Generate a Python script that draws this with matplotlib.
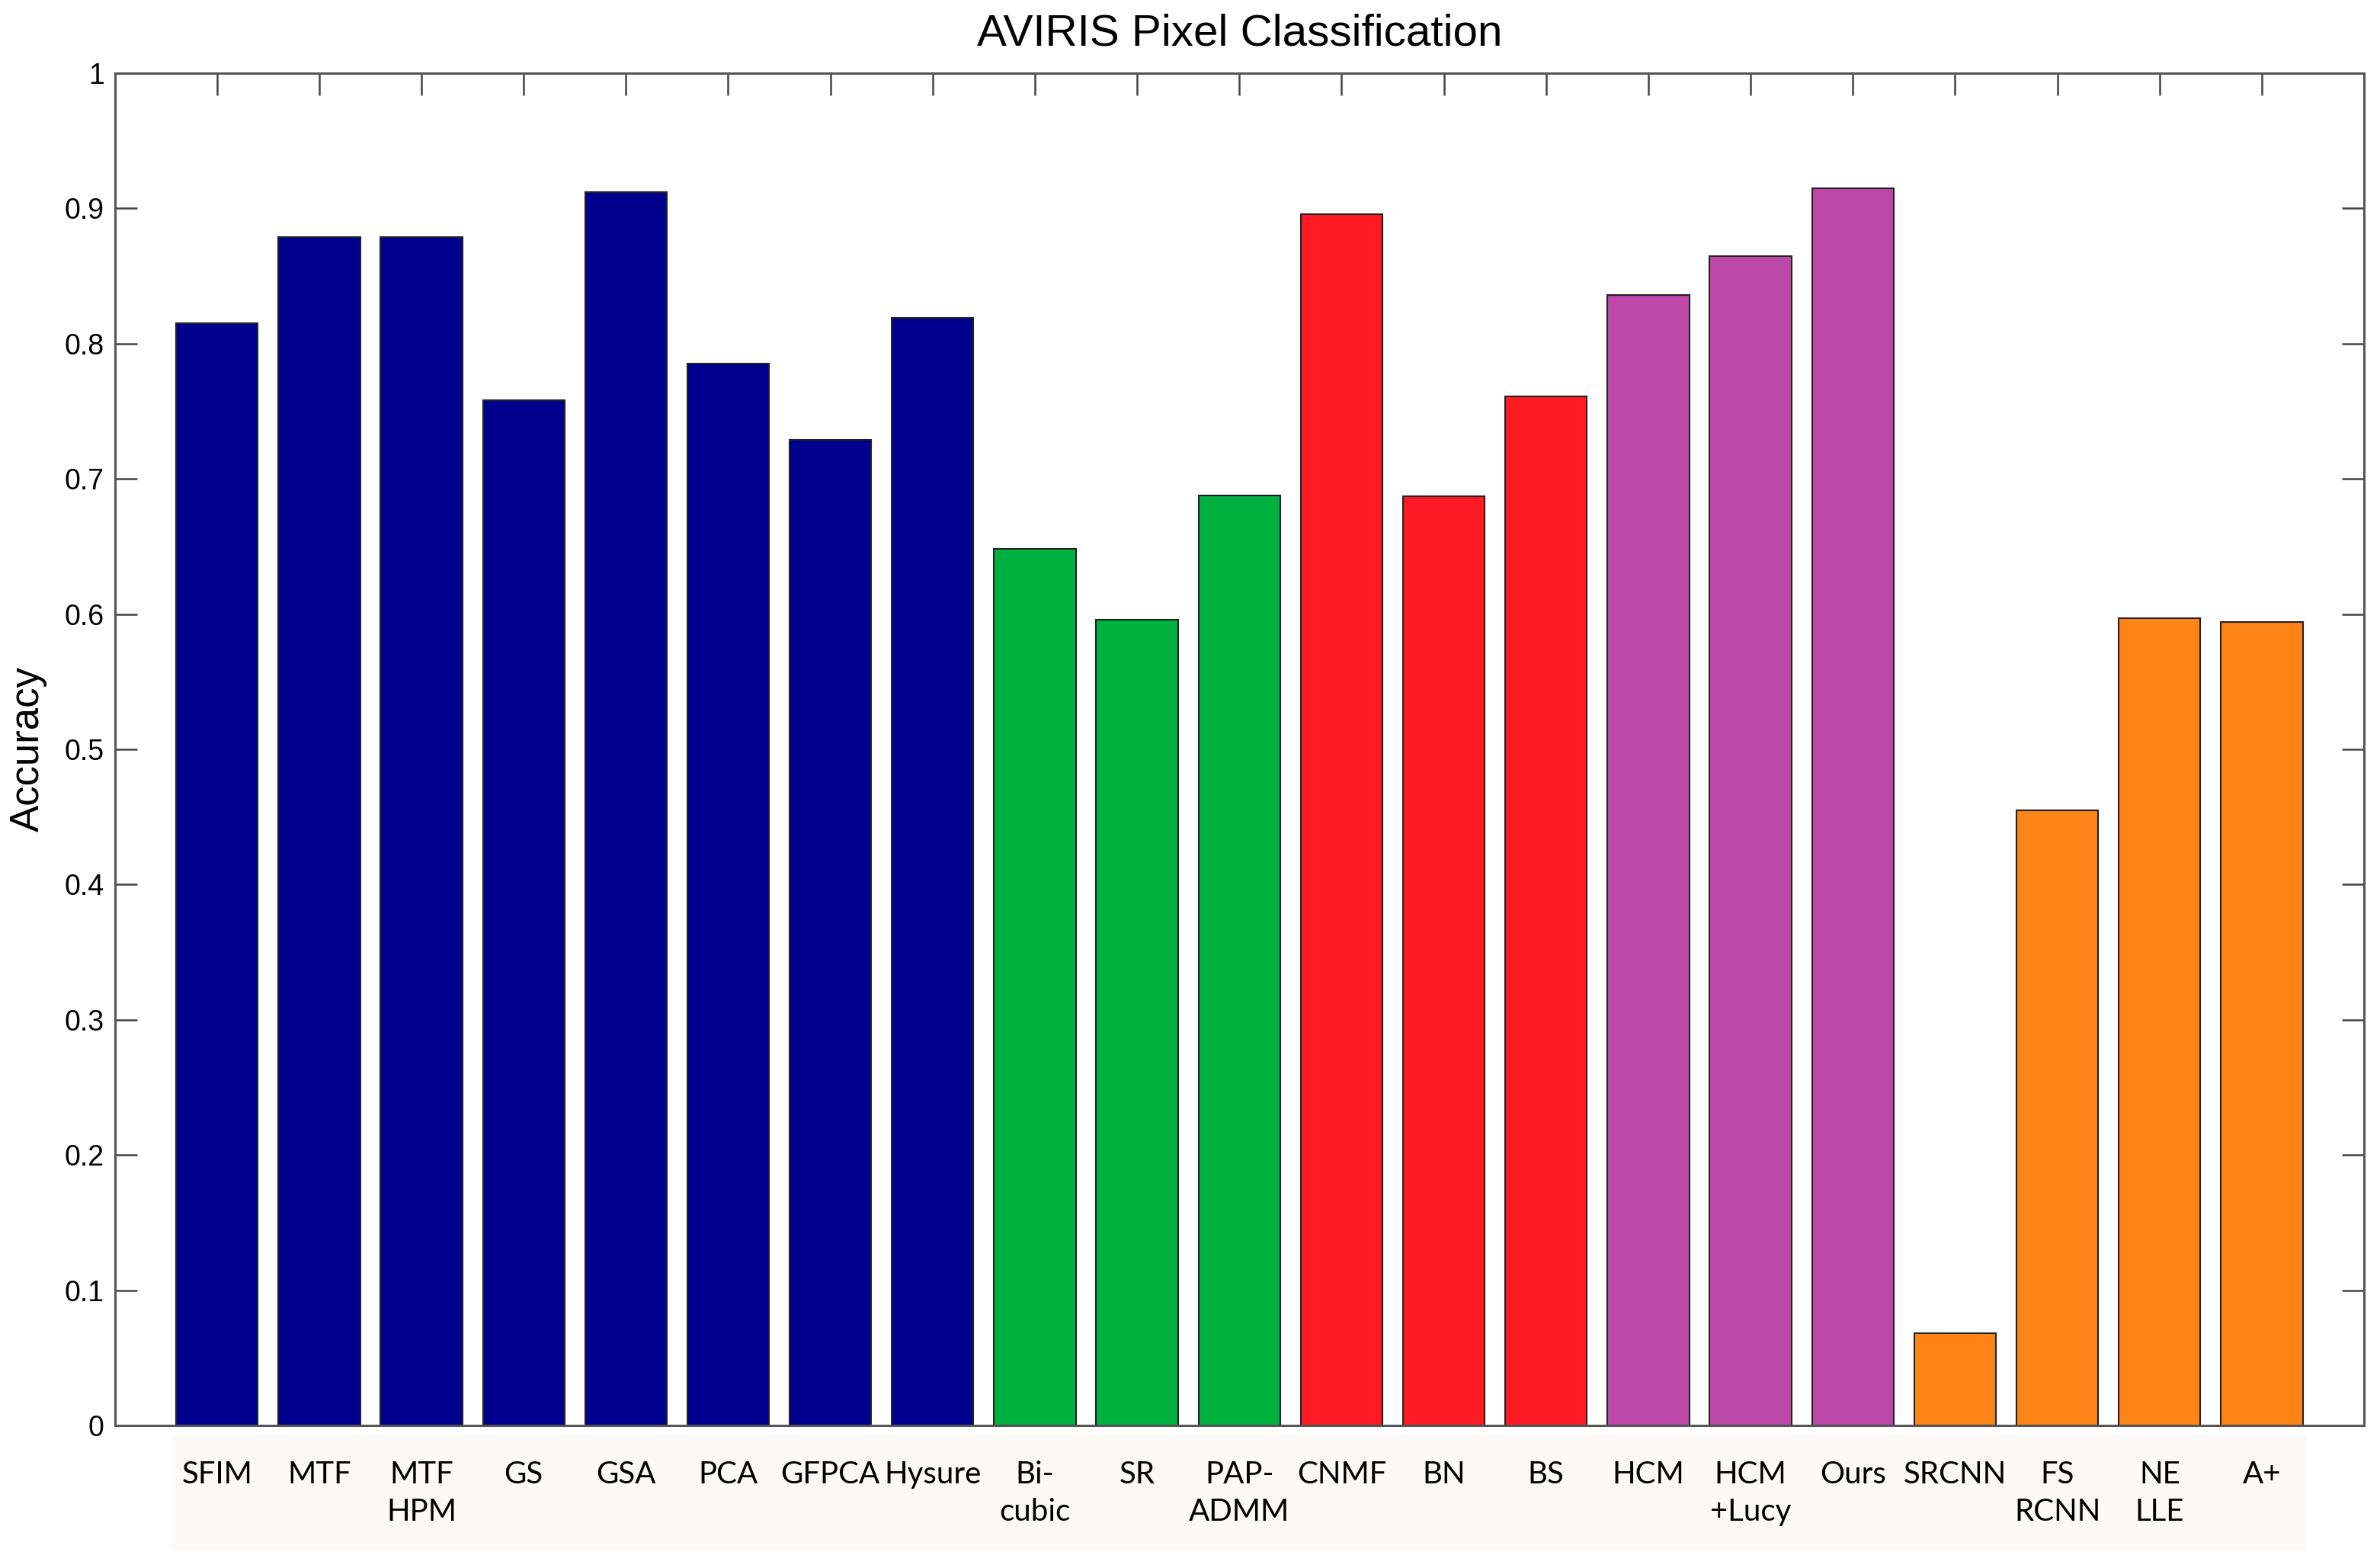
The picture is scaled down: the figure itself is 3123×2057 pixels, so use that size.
import numpy as np
import matplotlib
matplotlib.use("Agg")
import matplotlib.pyplot as plt
from matplotlib.patches import Rectangle

# ------- data -------
methods = ["SFIM", "MTF", "MTF\nHPM", "GS", "GSA", "PCA", "GFPCA", "Hysure",
           "Bi-\ncubic", "SR", "PAP-\nADMM",
           "CNMF", "BN", "BS",
           "HCM", "HCM\n+Lucy", "Ours",
           "SRCNN", "FS\nRCNN", "NE\nLLE", "A+"]
accuracy = [0.815, 0.879, 0.879, 0.758, 0.912, 0.785, 0.729, 0.819,
            0.648, 0.596, 0.688,
            0.896, 0.687, 0.761,
            0.836, 0.865, 0.915,
            0.068, 0.455, 0.597, 0.594]
groups = [0] * 8 + [1] * 3 + [2] * 3 + [3] * 3 + [4] * 4
group_colors = ["#00008F", "#00B140", "#FF1A24", "#BB47A6", "#FF8418"]

plt.rcParams['font.family'] = ['Liberation Sans', 'DejaVu Sans']

fig = plt.figure(figsize=(31.23, 20.57), dpi=100)
ax = fig.add_axes([0.0482, 0.0909, 0.9451, 0.8624])

# light panel behind the method names (drawn beneath the axes)
fig.patches.append(Rectangle((0.072, 0.011), 0.897, 0.074, transform=fig.transFigure,
                             facecolor="#FBFAF8", edgecolor="none", zorder=-1))

pos = np.arange(1, len(methods) + 1)
ax.bar(pos, accuracy, width=0.8, color=[group_colors[g] for g in groups],
       edgecolor="#222222", linewidth=1.5, zorder=2)

ax.set_xlim(0.0, len(methods) + 1)
ax.set_ylim(0, 1)
ax.set_yticks(np.arange(0, 1.01, 0.1))
ax.set_yticklabels(["0"] + ["%.1f" % v for v in np.arange(0.1, 0.95, 0.1)] + ["1"])
ax.set_xticks(pos)
ax.set_xticklabels(methods, family=['Lato', 'Liberation Sans'],
                   fontsize=29, linespacing=1.42, va='top')

ax.tick_params(axis='y', direction='in', length=21, width=1.8, color="#444444",
               labelsize=27, pad=10, right=True)
ax.tick_params(axis='x', direction='in', length=21, width=1.8, color="#444444",
               top=True, bottom=False, labelbottom=True, pad=33)
for s in ax.spines.values():
    s.set_linewidth(2.2)
    s.set_color("#555555")

ax.set_ylabel("Accuracy", fontsize=38, labelpad=16)
ax.set_title("AVIRIS Pixel Classification", fontsize=42, pad=26)

fig.savefig("out.png", dpi=100, facecolor="white")
